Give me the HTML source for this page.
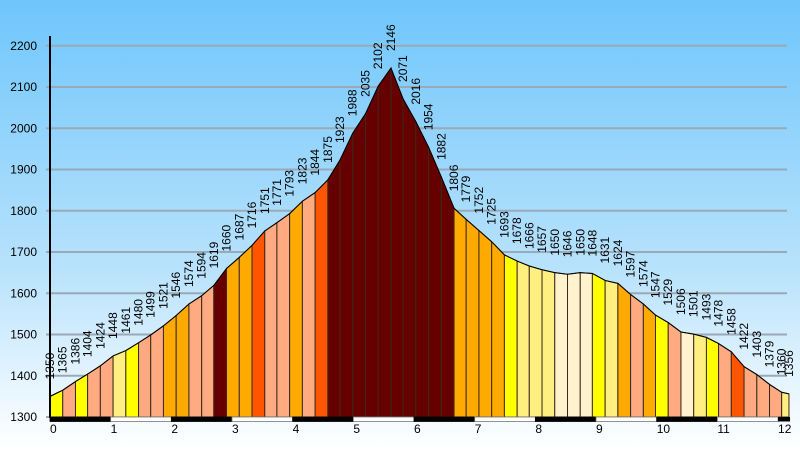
<!DOCTYPE html>
<html><head><meta charset="utf-8"><style>
body{margin:0;width:800px;height:447px;overflow:hidden;font-family:"Liberation Sans",sans-serif}
</style></head><body>
<svg id="chart" width="800" height="447" xmlns="http://www.w3.org/2000/svg" font-family="Liberation Sans, sans-serif">
<defs><linearGradient id="bg" x1="0" y1="0" x2="0" y2="1">
<stop offset="0" stop-color="#6ec6fc"/><stop offset="0.6" stop-color="#b8e2fc"/><stop offset="1" stop-color="#ffffff"/></linearGradient></defs>
<rect x="0" y="0" width="800" height="447" fill="url(#bg)"/>
<g id="grid"></g><g id="segs"></g><g id="labels"></g><g id="axes"></g>
</svg>
<script>
const distances=[0,0.21,0.42,0.62,0.83,1.04,1.25,1.46,1.66,1.87,2.08,2.29,2.50,2.70,2.91,3.12,3.33,3.54,3.74,3.95,4.16,4.37,4.58,4.78,4.99,5.20,5.41,5.62,5.82,6.03,6.24,6.45,6.66,6.86,7.07,7.28,7.49,7.70,7.90,8.11,8.32,8.53,8.74,8.94,9.15,9.36,9.57,9.78,9.98,10.19,10.40,10.61,10.82,11.02,11.23,11.44,11.65,11.86,12.06,12.18];
const elevations=[1350,1365,1386,1404,1424,1448,1461,1480,1499,1521,1546,1574,1594,1619,1660,1687,1716,1751,1771,1793,1823,1844,1875,1923,1988,2035,2102,2146,2071,2016,1954,1882,1806,1779,1752,1725,1693,1678,1666,1657,1650,1646,1650,1648,1631,1624,1597,1574,1547,1529,1506,1501,1493,1478,1458,1422,1403,1379,1360,1356];
const gradeClass="YSYSSPYSSOOSSMOORSSOSRMMMMMMMMMMOOOOYPPPCCCYPOSOYSCPYSRSSSP".split("");
const yTicks=[1300,1400,1500,1600,1700,1800,1900,2000,2100,2200];
const xTicks=[0,1,2,3,4,5,6,7,8,9,10,11,12];
const palette={Y:"#ffff00",S:"#ffaa80",P:"#ffee80",O:"#ffaa00",M:"#660000",R:"#ff5500",C:"#fff2cc"};
const NS="http://www.w3.org/2000/svg";
const X=d=>50+d*60.67, Y=e=>417-(e-1300)*0.4125;
function mk(t,a,p){const el=document.createElementNS(NS,t);for(const k in a)el.setAttribute(k,a[k]);p.appendChild(el);return el;}
const grid=document.getElementById('grid'),segs=document.getElementById('segs'),labels=document.getElementById('labels'),axes=document.getElementById('axes');
yTicks.forEach(v=>{
 const l=mk('line',{x1:46,x2:787,y1:Y(v),y2:Y(v),stroke:'#9aa9b6','stroke-width':2},grid);
 
 
 const t=mk('text',{x:37,y:Y(v)+4,'text-anchor':'end','font-size':12,fill:'#000'},axes);
 t.textContent=v;
 
 
});
for(let i=0;i<distances.length-1;i++){
 const x1=X(distances[i]),x2=X(distances[i+1]),y1=Y(elevations[i]),y2=Y(elevations[i+1]),b=Y(1300);
 const p=mk('polygon',{points:`${x1},${b} ${x1},${y1} ${x2},${y2} ${x2},${b}`,fill:palette[gradeClass[i]],stroke:'#3a2a1a','stroke-width':1},segs);
 
 
}
const pl=mk('polyline',{points:distances.map((d,i)=>X(d)+','+Y(elevations[i])).join(' '),fill:'none',stroke:'#000','stroke-width':1},segs);


elevations.forEach((e,i)=>{
 const x=X(distances[i])+4,y=Y(e)-17;
 const t=mk('text',{x:x,y:y,transform:`rotate(-90 ${x} ${y})`,'font-size':12,fill:'#000'},labels);
 t.textContent=e;
 
 
});
const ax=mk('line',{x1:50,x2:50,y1:36,y2:418,stroke:'#000','stroke-width':2},axes);


xTicks.forEach((v,i)=>{
 if(i<xTicks.length-1){
  const r=mk('rect',{x:X(v),y:417,width:X(xTicks[i+1])-X(v),height:4.5,fill:i%2?'#fff':'#000',stroke:i%2?'#777':'#000','stroke-width':0.8},axes);
  
  
 } else {
  const r=mk('rect',{x:X(v),y:417,width:12,height:4.5,fill:'#000'},axes);
  
  
 }
 const t=mk('text',{x:X(v),y:433,'font-size':12,fill:'#000'},axes);
 t.textContent=v;
 
 
});
</script>
</body></html>
